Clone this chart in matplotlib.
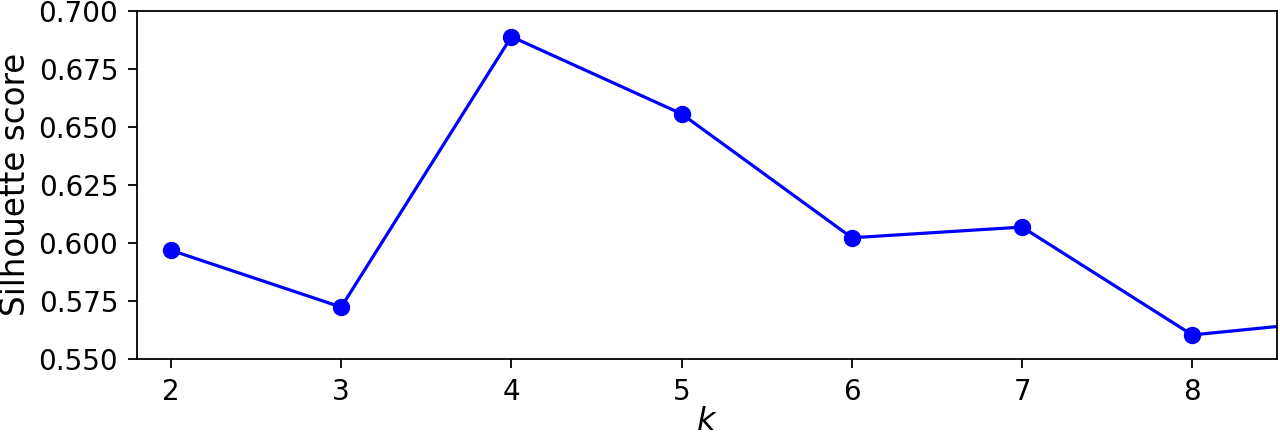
import matplotlib
matplotlib.use("Agg")
import matplotlib.pyplot as plt

k_values = [2, 3, 4, 5, 6, 7, 8, 9]
silhouette_scores = [0.5968, 0.5723, 0.6889, 0.6556, 0.6022, 0.6068, 0.5603, 0.5676]

fig = plt.figure(figsize=(12.8, 4.36), dpi=100)
ax = fig.add_axes([0.107, 0.177, 0.891, 0.798])
ax.plot(k_values, silhouette_scores, "bo-", markersize=11.5, linewidth=2.3)
ax.set_xlabel("$k$", fontsize=23, labelpad=0.5)
ax.set_ylabel("Silhouette score", fontsize=23.5, labelpad=4.5)
ax.axis([1.8, 8.5, 0.55, 0.7])
ax.set_yticks([0.55, 0.575, 0.6, 0.625, 0.65, 0.675, 0.7])
ax.tick_params(labelsize=20, length=6.5, width=1.3, pad=7)
for s in ax.spines.values():
    s.set_linewidth(1.3)
ax.yaxis.set_major_formatter(matplotlib.ticker.FormatStrFormatter("%.3f"))

fig.savefig("out.png", dpi=100)
